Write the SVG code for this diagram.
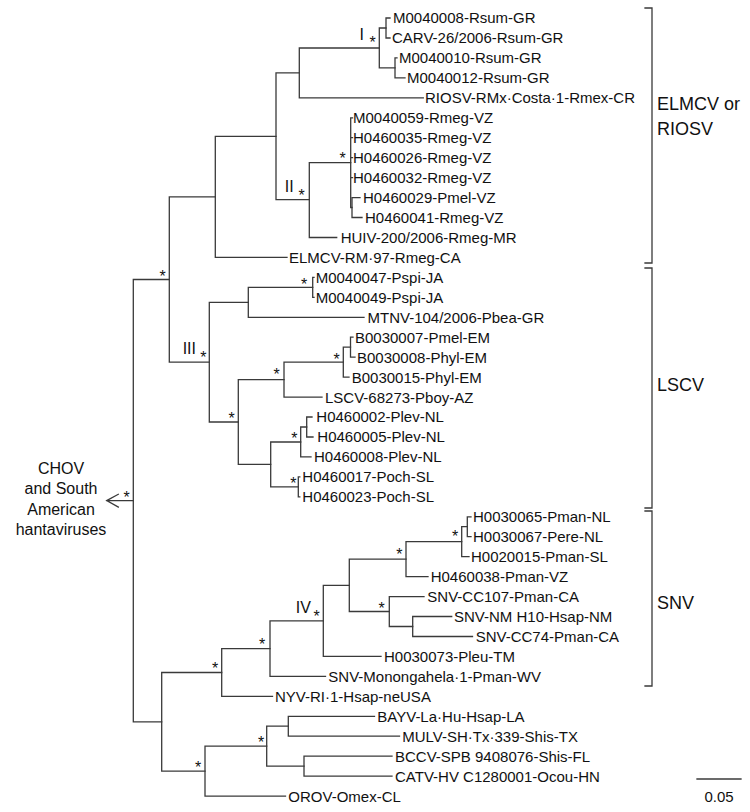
<svg xmlns="http://www.w3.org/2000/svg" width="750" height="812" viewBox="0 0 750 812">
<style>
.e{fill:none;stroke:#3a3a3a;stroke-width:1.3;stroke-linecap:square}
text{font-family:"Liberation Sans",Arial,sans-serif;fill:#111}
.l{font-size:15px}
.s{font-size:16px;text-anchor:middle}
.r{font-size:16px;text-anchor:middle}
.g{font-size:18px}
.c{font-size:16px;text-anchor:middle}
</style>
<rect width="750" height="812" fill="#fff"/>
<g id="connectors" class="e">
<path d="M133.3,279.5V721.8M133.3,279.5H169.3M133.3,721.8H161.7"/>
<path d="M133.3,500.6H106.7M118.3,494.3L106.7,500.6L118.3,507"/>
<path d="M169.3,196.9V362.2M169.3,196.9H215.3M169.3,362.2H209.3"/>
<path d="M215.3,136.3V257.4M215.3,136.3H276M215.3,257.4H287"/>
<path d="M276,72.9V199.7M276,72.9H299.3M276,199.7H309.3"/>
<path d="M299.3,48V97.8M299.3,48H379.3M299.3,97.8H423.3"/>
<path d="M379.3,28V67.9M379.3,28H386M379.3,67.9H395"/>
<path d="M386,18V38M386,18H390M386,38H390"/>
<path d="M395,57.9V77.9M395,57.9H397M395,77.9H405"/>
<path d="M309.3,162.6V237.5M309.3,162.6H350.7M309.3,237.5H336.7"/>
<path d="M350.7,117.8V207.5M350.7,117.8H352.5M350.7,137.7H352.5M350.7,157.7H352.5M350.7,177.6H352.5M350.7,207.5H352"/>
<path d="M352,197.6V217.5M352,197.6H360M352,217.5H362"/>
<path d="M209.3,302.3V422M209.3,302.3H248.3M209.3,422H238.3"/>
<path d="M248.3,287.3V317.3M248.3,287.3H312.7M248.3,317.3H364"/>
<path d="M312.7,277.4V297.3M312.7,277.4H314M312.7,297.3H314"/>
<path d="M238.3,379.6V464.4M238.3,379.6H284M238.3,464.4H270.7"/>
<path d="M284,362.2V397.1M284,362.2H343.3M284,397.1H322"/>
<path d="M343.3,347.2V377.1M343.3,347.2H350.5M343.3,377.1H349"/>
<path d="M350.5,337.2V357.2M350.5,337.2H353M350.5,357.2H355"/>
<path d="M270.7,442V486.8M270.7,442H300.7M270.7,486.8H298.3"/>
<path d="M300.7,427V456.9M300.7,427H306.7M300.7,456.9H311"/>
<path d="M306.7,417V437M306.7,417H312M306.7,437H313"/>
<path d="M298.3,476.9V496.8M298.3,476.9H299.8M298.3,496.8H299.8"/>
<path d="M161.7,672.5V771.1M161.7,672.5H221.7M161.7,771.1H205"/>
<path d="M221.7,648.6V696.3M221.7,648.6H270M221.7,696.3H272.5"/>
<path d="M270,620.9V676.4M270,620.9H323.3M270,676.4H325.5"/>
<path d="M323.3,585.3V656.4M323.3,585.3H349.3M323.3,656.4H381"/>
<path d="M349.3,559.1V611.5M349.3,559.1H406M349.3,611.5H389.3"/>
<path d="M406,541.7V576.6M406,541.7H461.7M406,576.6H428"/>
<path d="M461.7,526.7V556.7M461.7,526.7H467.3M461.7,556.7H469"/>
<path d="M467.3,516.8V536.7M467.3,516.8H471M467.3,536.7H471"/>
<path d="M389.3,596.6V626.5M389.3,596.6H424M389.3,626.5H412.7"/>
<path d="M412.7,616.5V636.5M412.7,616.5H451.7M412.7,636.5H472.5"/>
<path d="M205,746.2V796.1M205,746.2H266.7M205,796.1H285.5"/>
<path d="M266.7,726.2V766.1M266.7,726.2H288.3M266.7,766.1H304"/>
<path d="M288.3,716.3V736.2M288.3,716.3H374.5M288.3,736.2H399.5"/>
<path d="M304,756.2V776.1M304,756.2H392M304,776.1H392"/>
<path d="M645,8H652V263H645M645,268H652V508H645M645,511H652V686H645"/>
<path d="M697,779H741"/>
</g>
<g id="leaves" class="l">
<g id="n1"><text x="393" y="23.4">M0040008-Rsum-GR</text></g>
<g id="n2"><text x="392" y="43.4">CARV-26/2006-Rsum-GR</text></g>
<g id="n3"><text x="399" y="63.3">M0040010-Rsum-GR</text></g>
<g id="n4"><text x="407" y="83.3">M0040012-Rsum-GR</text></g>
<g id="n5"><text x="425" y="103.2">RIOSV-RMx·Costa·1-Rmex-CR</text></g>
<g id="n6"><text x="353" y="123.2">M0040059-Rmeg-VZ</text></g>
<g id="n7"><text x="353" y="143.1">H0460035-Rmeg-VZ</text></g>
<g id="n8"><text x="353" y="163.1">H0460026-Rmeg-VZ</text></g>
<g id="n9"><text x="353" y="183">H0460032-Rmeg-VZ</text></g>
<g id="n10"><text x="363" y="203">H0460029-Pmel-VZ</text></g>
<g id="n11"><text x="365" y="222.9">H0460041-Rmeg-VZ</text></g>
<g id="n12"><text x="340.7" y="242.9">HUIV-200/2006-Rmeg-MR</text></g>
<g id="n13"><text x="289" y="262.8">ELMCV-RM·97-Rmeg-CA</text></g>
<g id="n14"><text x="315.7" y="282.8">M0040047-Pspi-JA</text></g>
<g id="n15"><text x="315.7" y="302.7">M0040049-Pspi-JA</text></g>
<g id="n16"><text x="367.5" y="322.7">MTNV-104/2006-Pbea-GR</text></g>
<g id="n17"><text x="355" y="342.6">B0030007-Pmel-EM</text></g>
<g id="n18"><text x="357" y="362.6">B0030008-Phyl-EM</text></g>
<g id="n19"><text x="351.7" y="382.5">B0030015-Phyl-EM</text></g>
<g id="n20"><text x="325" y="402.5">LSCV-68273-Pboy-AZ</text></g>
<g id="n21"><text x="316.3" y="422.4">H0460002-Plev-NL</text></g>
<g id="n22"><text x="317.3" y="442.4">H0460005-Plev-NL</text></g>
<g id="n23"><text x="314" y="462.3">H0460008-Plev-NL</text></g>
<g id="n24"><text x="302.3" y="482.3">H0460017-Poch-SL</text></g>
<g id="n25"><text x="302.3" y="502.2">H0460023-Poch-SL</text></g>
<g id="n26"><text x="473" y="522.2">H0030065-Pman-NL</text></g>
<g id="n27"><text x="473" y="542.1">H0030067-Pere-NL</text></g>
<g id="n28"><text x="471" y="562.1">H0020015-Pman-SL</text></g>
<g id="n29"><text x="430.7" y="582">H0460038-Pman-VZ</text></g>
<g id="n30"><text x="427.3" y="602">SNV-CC107-Pman-CA</text></g>
<g id="n31"><text x="454" y="621.9">SNV-NM H10-Hsap-NM</text></g>
<g id="n32"><text x="475.7" y="641.9">SNV-CC74-Pman-CA</text></g>
<g id="n33"><text x="384" y="661.8">H0030073-Pleu-TM</text></g>
<g id="n34"><text x="328.3" y="681.8">SNV-Monongahela·1-Pman-WV</text></g>
<g id="n35"><text x="275" y="701.7">NYV-RI·1-Hsap-neUSA</text></g>
<g id="n36"><text x="377.3" y="721.7">BAYV-La·Hu-Hsap-LA</text></g>
<g id="n37"><text x="402.3" y="741.6">MULV-SH·Tx·339-Shis-TX</text></g>
<g id="n38"><text x="395" y="761.6">BCCV-SPB 9408076-Shis-FL</text></g>
<g id="n39"><text x="395" y="781.5">CATV-HV C1280001-Ocou-HN</text></g>
<g id="n40"><text x="288.3" y="801.5">OROV-Omex-CL</text></g>
</g>
<g id="support" class="s">
<g id="nodeI"><text class="r" x="361.7" y="39.5">I</text><text x="372.7" y="48.3">*</text></g>
<g id="nodeIIa"><text x="342.7" y="164">*</text></g>
<g id="nodeII"><text class="r" x="289.3" y="191.7">II</text><text x="301.7" y="200.7">*</text></g>
<g id="node169"><text x="162.7" y="281.7">*</text></g>
<g id="nodePspi"><text x="304" y="289.7">*</text></g>
<g id="nodeIII"><text class="r" x="189.3" y="354">III</text><text x="203.3" y="363">*</text></g>
<g id="nodeB"><text x="336.7" y="365">*</text></g>
<g id="node284"><text x="276.7" y="379.7">*</text></g>
<g id="node238"><text x="231.7" y="424">*</text></g>
<g id="nodePlev"><text x="294.3" y="444">*</text></g>
<g id="nodePoch"><text x="293.3" y="489">*</text></g>
<g id="root"><text x="126.7" y="503">*</text></g>
<g id="node461"><text x="455" y="542.3">*</text></g>
<g id="node406"><text x="399.3" y="559.7">*</text></g>
<g id="node389"><text x="381.7" y="614">*</text></g>
<g id="nodeIV"><text class="r" x="303.3" y="613.3">IV</text><text x="316.7" y="622.3">*</text></g>
<g id="node270"><text x="262" y="650">*</text></g>
<g id="node221"><text x="215" y="674">*</text></g>
<g id="node266"><text x="261" y="748">*</text></g>
<g id="node205"><text x="198" y="773">*</text></g>
</g>
<g id="outgroup" class="c">
<text x="61" y="474">CHOV</text>
<text x="61" y="494.3">and South</text>
<text x="61" y="514.7">American</text>
<text x="61" y="535">hantaviruses</text>
</g>
<g id="clades" class="g">
<g id="cladeELMCV"><text x="657" y="109.5">ELMCV or</text><text x="657" y="134.5">RIOSV</text></g>
<g id="cladeLSCV"><text x="657" y="390.5">LSCV</text></g>
<g id="cladeSNV"><text x="657" y="608.5">SNV</text></g>
</g>
<g id="scale"><text class="l" x="719" y="802" text-anchor="middle">0.05</text></g>
</svg>
